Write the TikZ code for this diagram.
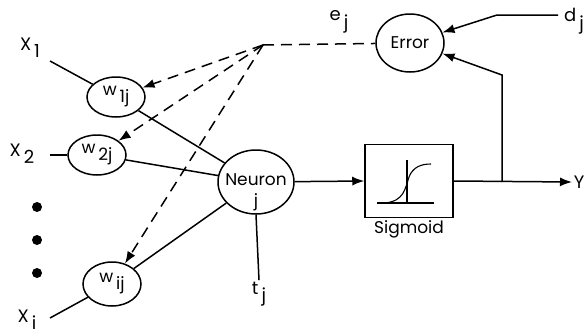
\documentclass[tikz,border=0pt]{standalone}
\usepackage{fontspec}
\setmainfont{Poppins}
\usetikzlibrary{shapes.geometric,arrows.meta}

\newcommand{\subtxt}[2]{#1\raisebox{-0.75ex}{\,#2}}

\tikzset{
  cell/.style={draw,line width=1.5pt,ellipse,inner sep=-4pt},
  lbl/.style={inner sep=1pt,font=\fontsize{18}{19}\selectfont},
  dsh/.style={line width=1.5pt,dash pattern=on 11pt off 7pt},
  >={Latex[length=12pt,width=9pt]}
}

\begin{document}
\begin{tikzpicture}[x=1pt,y=-1pt,line width=1.5pt,font=\fontsize{17}{18}\selectfont]

    \useasboundingbox (0,0) rectangle (587,335);

    % Weights
    \node[cell,minimum width=58pt,minimum height=40pt] (w1) at (116,97) {\subtxt{w}{1j}};
    \node[cell,minimum width=58pt,minimum height=40pt] (w2) at (97,155) {\subtxt{w}{2j}};
    \node[cell,minimum width=58pt,minimum height=44pt] (wi) at (112,284) {\subtxt{w}{ij}};

    % Neuron and error
    \node[cell,minimum width=76pt,minimum height=64pt,inner sep=-20pt] (neu) at (256,182) {};
    \node[inner sep=0pt] (neut) at (256,180) {Neuron};
    \node[inner sep=0pt] (neuj) at (256,202) {j};
    \node[cell,minimum width=68pt,minimum height=58pt] (err) at (410,43) {Error};

    % Sigmoid block
    \node[draw,minimum width=88pt,minimum height=73pt] (sig) at (409,181) {};
    \node[lbl,below=1pt,font=\fontsize{17}{18}\selectfont] (sigl) at (sig.south) {Sigmoid};

    % Inputs
    \node[lbl] (x1) at (30,48) {\subtxt{X}{1}};
    \node[lbl] (x2) at (22,154) {\subtxt{X}{2}};
    \node[lbl] (xi) at (27,320) {\subtxt{X}{i}};
    \node[lbl] (tj) at (259,294) {\subtxt{t}{j}};
    \node[lbl] (dj) at (574,21) {\subtxt{d}{j}};
    \node[lbl] (ej) at (339,22) {\subtxt{e}{j}};
    \node[lbl,anchor=west] (y) at (572,182) {Y};

    % Helper points
    \coordinate (src) at (263,45);
    \coordinate (dk) at (497,15);
    \coordinate (tap) at (502,182);
    \coordinate (tk) at (502,75);

    % Input lines
    \draw (50,61) -- (w1);
    \draw (50,155) -- (w2);
    \draw (50,318) -- (wi);
    \draw (w1) -- (neu);
    \draw (w2) -- (neu);
    \draw (wi) -- (neu);

    % Dots
    \fill (37,207) circle (5pt);
    \fill (37,240) circle (5pt);
    \fill (37,273) circle (5pt);

    % Threshold
    \draw (neu.south) -- (tj.north);

    % Forward path
    \draw[->] (neu) -- (sig.west);
    \draw[->] (sig.east) -- (y.west);

    % Error feedback
    \draw[->] (558,15) -- (dk) -- (err.18);
    \draw[->] (tap) -- (tk) -- (err.-18);
    \draw[dsh] (src) -- (err);
    \draw[dsh,->] (src) -- (w1);
    \draw[dsh,->] (src) -- (w2);
    \draw[dsh,->] (src) -- (wi);

    % Sigmoid curve
    \draw[line width=1.1pt] ([shift={(-32,22)}]sig.center) -- ([shift={(25,22)}]sig.center);
    \draw[line width=1.1pt] ([shift={(-2,-21)}]sig.center) -- ([shift={(-2,22)}]sig.center);
    \draw[line width=1.1pt] ([shift={(-24,22)}]sig.center)
      .. controls ([shift={(-5,20)}]sig.center) and ([shift={(-4,8)}]sig.center) ..
      ([shift={(0,-4)}]sig.center)
      .. controls ([shift={(4,-14)}]sig.center) and ([shift={(12,-17)}]sig.center) ..
      ([shift={(22,-17)}]sig.center);
  \end{tikzpicture}
\end{document}
